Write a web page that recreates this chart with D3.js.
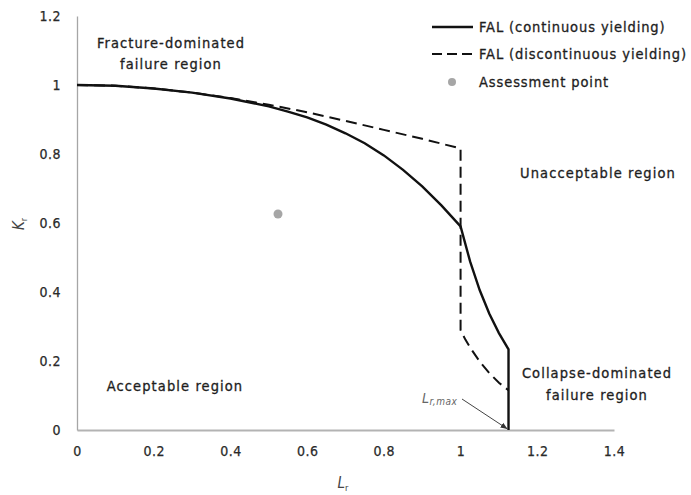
<!DOCTYPE html>
<html>
<head>
<meta charset="utf-8">
<script src="https://cdn.jsdelivr.net/npm/d3@7"></script>
<style>
  html, body { margin: 0; padding: 0; background: #fff; }
  svg { display: block; }
  text { font-family: "DejaVu Sans Condensed", "DejaVu Sans", sans-serif; }
</style>
</head>
<body>
<svg id="chart" width="691" height="495"></svg>
<script>
// Failure assessment line, continuous yielding (Lr, Kr)
const lrContinuous = [0, 0.1, 0.2, 0.3, 0.4, 0.5, 0.55, 0.6, 0.65, 0.7, 0.75, 0.8, 0.85, 0.9, 0.95, 1.0,
                      1.025, 1.05, 1.075, 1.1, 1.125, 1.125];
const krContinuous = [1.000, 0.998, 0.990, 0.978, 0.961, 0.938, 0.923, 0.906, 0.885, 0.860, 0.831, 0.796, 0.754, 0.706, 0.651, 0.590,
                      0.488, 0.405, 0.337, 0.281, 0.234, 0];

// Failure assessment line, discontinuous yielding (Lüders plateau at Lr = 1)
const lrDiscontinuous = [0, 0.1, 0.2, 0.3, 0.4, 0.5, 0.6, 0.7, 0.8, 0.9, 1.0,
                         1.0, 1.0125, 1.025, 1.05, 1.075, 1.1, 1.125];
const krDiscontinuous = [1.000, 0.998, 0.990, 0.978, 0.962, 0.943, 0.921, 0.896, 0.870, 0.844, 0.816,
                         0.290, 0.262, 0.239, 0.198, 0.165, 0.137, 0.115];

// Assessment point
const assessLr = [0.524];
const assessKr = [0.626];

// Cut-off
const lrMax = 1.125;

// Axis ticks
const xTicks = [0, 0.2, 0.4, 0.6, 0.8, 1, 1.2, 1.4];
const yTicks = [0, 0.2, 0.4, 0.6, 0.8, 1, 1.2];

const legendLabels = ["FAL (continuous yielding)", "FAL (discontinuous yielding)", "Assessment point"];

const svg = d3.select("#chart");

const x = d3.scaleLinear().domain([0, 1.4]).range([77, 614]);
const y = d3.scaleLinear().domain([0, 1.2]).range([430, 16]);

const toPoints = (xs, ys) => xs.map((v, i) => [v, ys[i]]);

// Axes: lines and tick labels, no tick marks
const xAxis = d3.axisBottom(x).tickValues(xTicks).tickSize(0).tickPadding(16)
  .tickFormat(d => d3.format("~g")(d));
const yAxis = d3.axisLeft(y).tickValues(yTicks).tickSize(0).tickPadding(16)
  .tickFormat(d => d3.format("~g")(d));

const gx = svg.append("g").attr("transform", `translate(0,${y(0)})`).call(xAxis);
const gy = svg.append("g").attr("transform", `translate(${x(0)},0)`).call(yAxis);

gx.select(".domain").attr("stroke", "#b3b3b3").attr("stroke-width", 2);
gy.select(".domain").attr("stroke", "#a6a6a6").attr("stroke-width", 1.3);
[gx, gy].forEach(g => g.selectAll(".tick text")
  .attr("font-size", 14).attr("fill", "#2a2a2a").attr("letter-spacing", 0.5)
  .attr("stroke", "#2a2a2a").attr("stroke-width", 0.25)
  .style("font-family", '"DejaVu Sans Condensed", sans-serif'));

// Axis titles
const xTitle = svg.append("text").attr("x", 343).attr("y", 488)
  .attr("text-anchor", "middle").attr("fill", "#444").attr("font-size", 15);
xTitle.append("tspan").attr("font-style", "italic").text("L");
xTitle.append("tspan").attr("font-size", 9).attr("dy", 3).text("r");

const yTitle = svg.append("text").attr("transform", "translate(24,224) rotate(-90)")
  .attr("text-anchor", "middle").attr("fill", "#444").attr("font-size", 15);
yTitle.append("tspan").attr("font-style", "italic").text("K");
yTitle.append("tspan").attr("font-size", 9).attr("dy", 3).text("r");

const line = d3.line().x(d => x(d[0])).y(d => y(d[1]));

// Discontinuous yielding FAL
svg.append("path")
  .datum(toPoints(lrDiscontinuous, krDiscontinuous))
  .attr("d", line)
  .attr("fill", "none").attr("stroke", "#111").attr("stroke-width", 2)
  .attr("stroke-dasharray", "11,6");

// Continuous yielding FAL
svg.append("path")
  .datum(toPoints(lrContinuous, krContinuous))
  .attr("d", line)
  .attr("fill", "none").attr("stroke", "#111").attr("stroke-width", 2.4)
  .attr("stroke-linejoin", "miter");

// Assessment point
svg.selectAll("circle.assess")
  .data(toPoints(assessLr, assessKr))
  .join("circle").attr("class", "assess")
  .attr("cx", d => x(d[0])).attr("cy", d => y(d[1])).attr("r", 4.5)
  .attr("fill", "#a6a6a6");

// Region labels
const regionFont = { size: 14.5, fill: "#1e1e1e", spacing: 1.1 };
function label(lines, cx, cy, dyLine) {
  const t = svg.append("text").attr("text-anchor", "middle")
    .attr("font-size", regionFont.size).attr("fill", regionFont.fill)
    .attr("stroke", regionFont.fill).attr("stroke-width", 0.3)
    .attr("letter-spacing", regionFont.spacing);
  lines.forEach((s, i) => t.append("tspan").attr("x", cx).attr("y", cy + i * dyLine).text(s));
}
label(["Fracture-dominated", "failure region"], 171, 48, 21);
label(["Unacceptable region"], 598, 178, 0);
label(["Acceptable region"], 175, 391, 0);
label(["Collapse-dominated", "failure region"], 597, 378, 22);

// Lr,max annotation with arrow
svg.append("defs").append("marker")
  .attr("id", "arrowhead").attr("viewBox", "0 0 10 10")
  .attr("refX", 10).attr("refY", 5).attr("markerWidth", 7).attr("markerHeight", 7)
  .attr("orient", "auto")
  .append("path").attr("d", "M0,1 L10,5 L0,9 Z").attr("fill", "#333");

svg.append("line")
  .attr("x1", 462).attr("y1", 399).attr("x2", x(lrMax) - 1).attr("y2", y(0) - 1)
  .attr("stroke", "#444").attr("stroke-width", 1)
  .attr("marker-end", "url(#arrowhead)");

const lmax = svg.append("text").attr("x", 422).attr("y", 403)
  .attr("fill", "#666").attr("font-size", 14).attr("letter-spacing", 0.5);
lmax.append("tspan").attr("font-style", "italic").text("L");
lmax.append("tspan").attr("font-size", 10).attr("dy", 2).attr("font-style", "italic").text("r,max");

// Legend
const legendX = 432, legendRows = [27, 54, 82];
const legend = svg.append("g");
legend.append("line").attr("x1", legendX).attr("x2", legendX + 41)
  .attr("y1", legendRows[0]).attr("y2", legendRows[0])
  .attr("stroke", "#111").attr("stroke-width", 2.4);
legend.append("line").attr("x1", legendX).attr("x2", legendX + 41)
  .attr("y1", legendRows[1]).attr("y2", legendRows[1])
  .attr("stroke", "#111").attr("stroke-width", 2).attr("stroke-dasharray", "10,5");
legend.append("circle").attr("cx", legendX + 20).attr("cy", legendRows[2]).attr("r", 4)
  .attr("fill", "#a6a6a6");
legend.selectAll("text.leg").data(legendLabels).join("text").attr("class", "leg")
  .attr("x", legendX + 47).attr("y", (d, i) => legendRows[i])
  .attr("dy", "0.35em").attr("font-size", 14.5).attr("fill", "#1e1e1e")
  .attr("stroke", "#1e1e1e").attr("stroke-width", 0.3)
  .attr("letter-spacing", 0.9)
  .text(d => d);
</script>
</body>
</html>
